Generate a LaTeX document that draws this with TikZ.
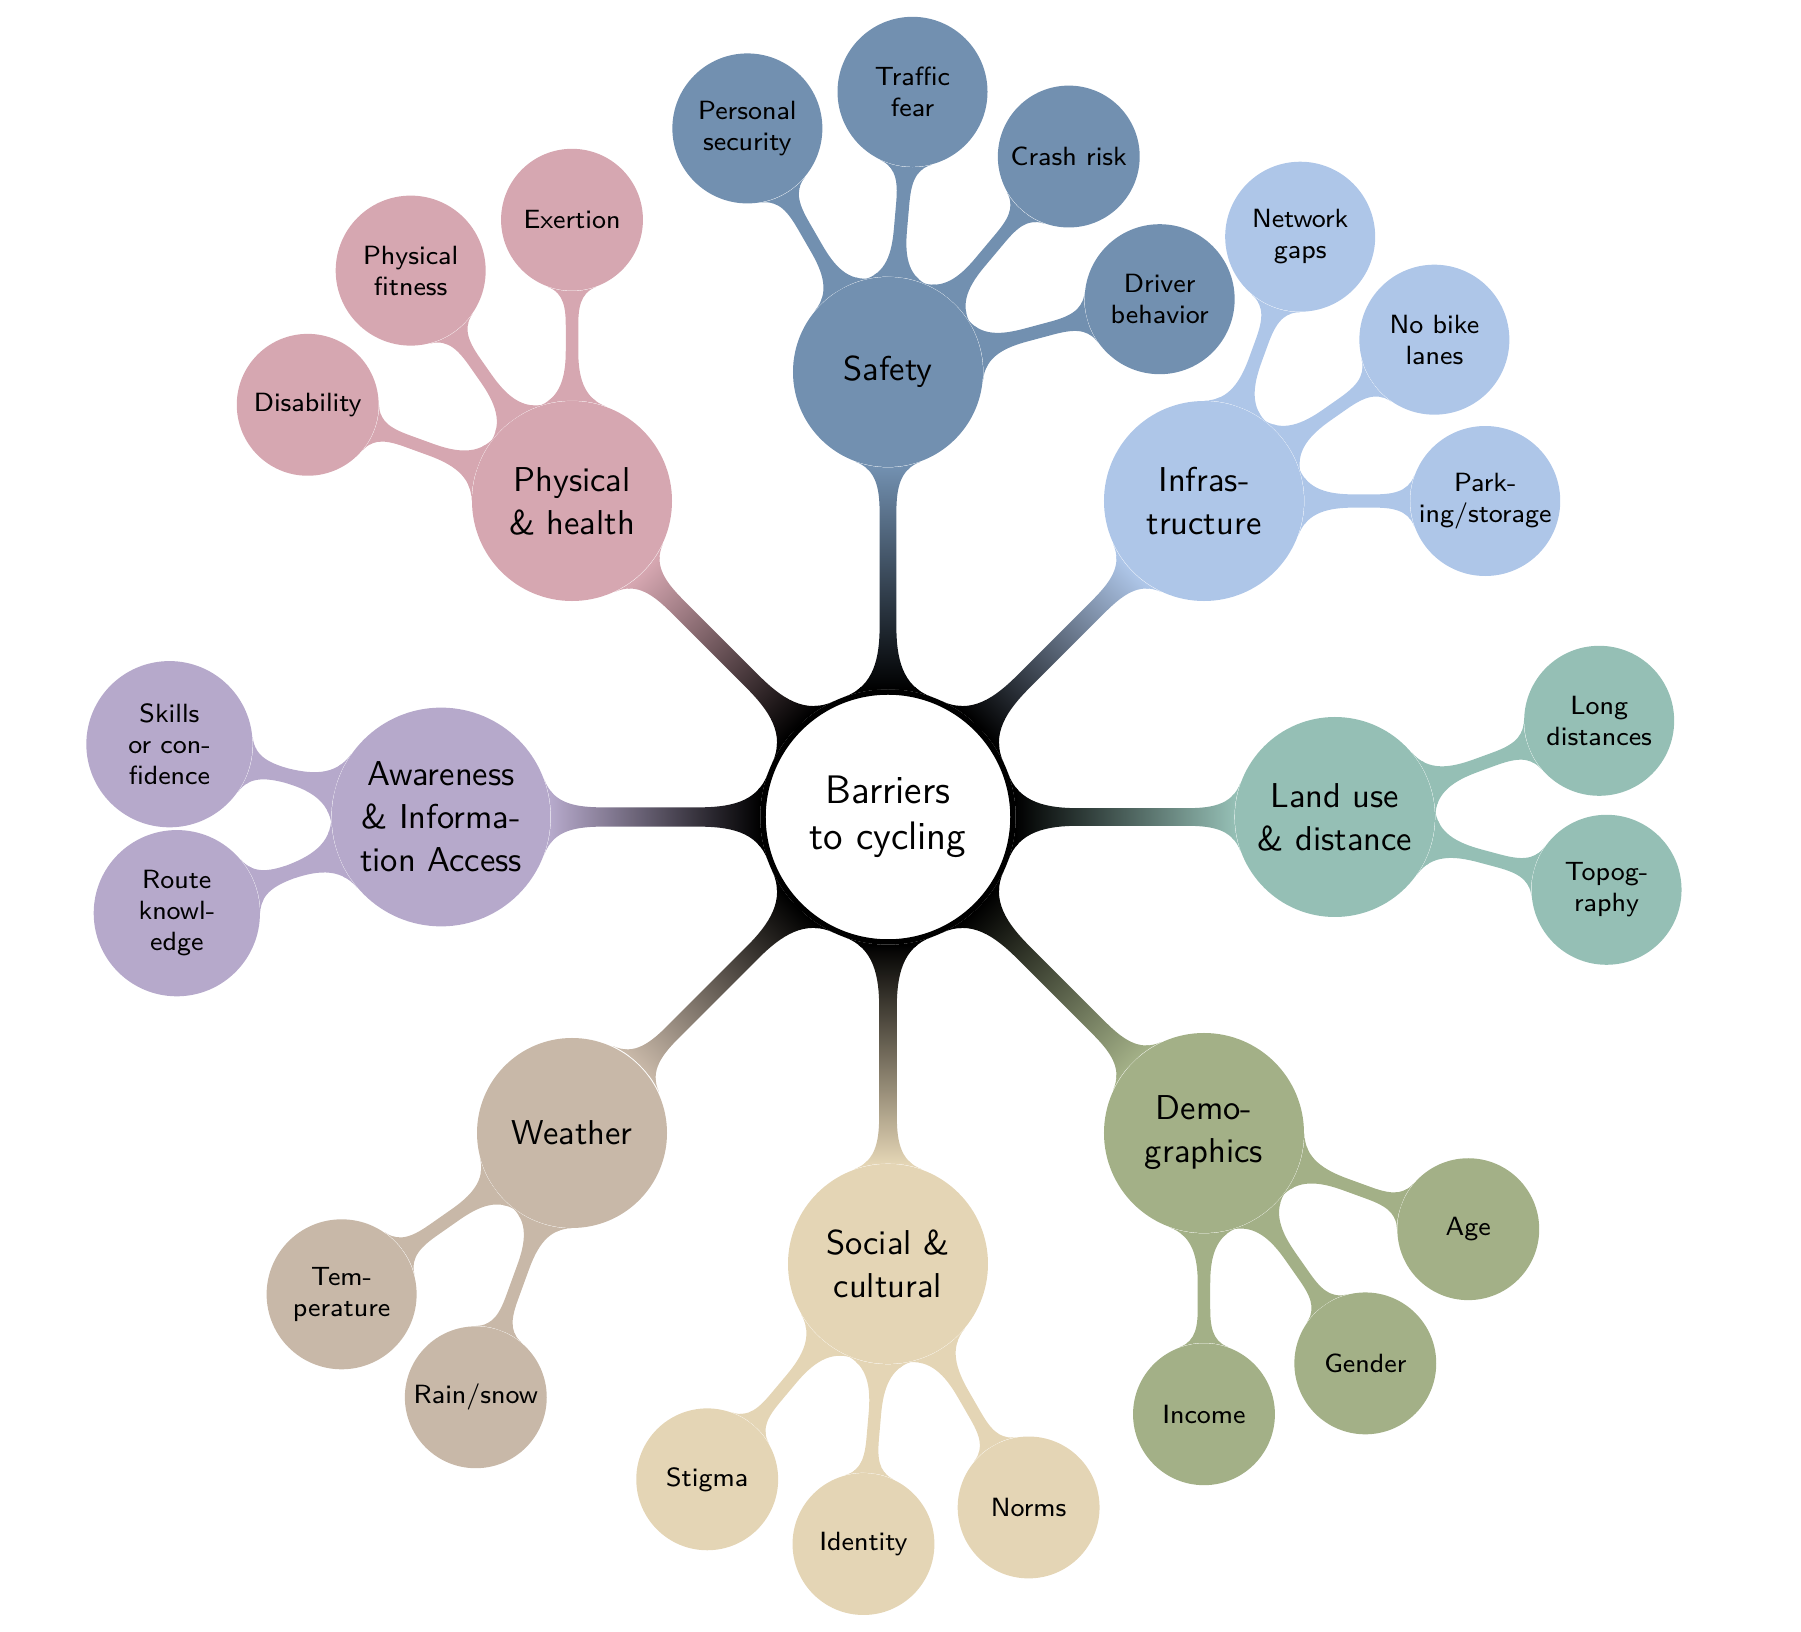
\documentclass[tikz,border=0pt]{standalone}
\usepackage{fontspec}
\usetikzlibrary{mindmap,backgrounds}
\newfontfamily\lmseight{lmsans8-regular.otf}
\newfontfamily\lmsten{lmsans10-regular.otf}
\newfontfamily\lmstwelve{lmsans12-regular.otf}
\definecolor{csafety}{HTML}{7290B0}
\definecolor{cinfra}{HTML}{AEC6E8}
\definecolor{cland}{HTML}{95BFB5}
\definecolor{cdemo}{HTML}{A3B087}
\definecolor{csocial}{HTML}{E4D5B5}
\definecolor{cweather}{HTML}{C8B8A8}
\definecolor{caware}{HTML}{B6A9CB}
\definecolor{cphys}{HTML}{D6A7B1}
\newcommand\fontroot{\lmstwelve\fontsize{18.1}{20.8}\selectfont}
\newcommand\fontone{\lmsten\fontsize{15.7}{19.5}\selectfont}
\newcommand\fonttwo{\lmseight\fontsize{12}{14}\selectfont}
\begin{document}
\begin{tikzpicture}[
  rootc/.style={circle, draw=black, line width=2.5pt, fill=white, minimum size=4cm,
    inner sep=0pt, align=center, text=black, font=\fontroot},
  lone/.style={circle, fill=#1, draw=none, minimum size=3.04cm, inner sep=0pt,
    align=center, text=black, font=\fontone},
  ltwo/.style={circle, fill=#1, draw=none, minimum size=2.27cm, inner sep=0pt,
    align=center, text=black, font=\fonttwo},
  rbar/.style={circle connection bar switch color=from (black) to (#1)},
  cbar/.style={circle connection bar switch color=from (#1) to (#1)}
]
\useasboundingbox (-14.208,-13.04) rectangle (14.608,13.072);

\node[rootc] (root) at (0,0) {Barriers\\to cycling};

% level 1
\node[lone=csafety]  (safety)  at (90:7.12)   {Safety};
\node[lone=cinfra, minimum size=3.2cm]   (infra)   at (45:7.15)   {Infras-\\tructure};
\node[lone=cland, minimum size=3.2cm]    (land)    at (0:7.15)    {Land use\\\& distance};
\node[lone=cdemo, minimum size=3.2cm]    (demo)    at (-45:7.15)  {Demo-\\graphics};
\node[lone=csocial, minimum size=3.2cm]  (social)  at (-90:7.15)  {Social \&\\cultural};
\node[lone=cweather] (weather) at (-135:7.15) {Weather};
\node[lone=caware, minimum size=3.5cm]   (aware)   at (180:7.15)  {Awareness\\\& Informa-\\tion Access};
\node[lone=cphys, minimum size=3.2cm]    (phys)    at (135:7.15)  {Physical\\\& health};

% level 2: safety
\path (safety.center) ++(120:4.5) node[ltwo=csafety, minimum size=2.4cm] (pers) {Personal\\security};
\path (safety.center) ++(85:4.5)  node[ltwo=csafety, minimum size=2.4cm] (traffic) {Traffic\\fear};
\path (safety.center) ++(50:4.5)  node[ltwo=csafety] (crash) {Crash risk};
\path (safety.center) ++(15:4.5)  node[ltwo=csafety, minimum size=2.4cm] (driver) {Driver\\behavior};
% infrastructure
\path (infra.center) ++(70:4.5) node[ltwo=cinfra, minimum size=2.4cm] (network) {Network\\gaps};
\path (infra.center) ++(35:4.5) node[ltwo=cinfra, minimum size=2.4cm] (nobike) {No bike\\lanes};
\path (infra.center) ++(0:4.5)  node[ltwo=cinfra, minimum size=2.4cm] (parking) {Park-\\ing/storage};
% land use
\path (land.center) ++(20:4.5)  node[ltwo=cland, minimum size=2.4cm] (long) {Long\\distances};
\path (land.center) ++(-15:4.5) node[ltwo=cland, minimum size=2.4cm] (topo) {Topog-\\raphy};
% demographics
\path (demo.center) ++(-20:4.5) node[ltwo=cdemo] (age) {Age};
\path (demo.center) ++(-55:4.5) node[ltwo=cdemo] (gender) {Gender};
\path (demo.center) ++(-90:4.5) node[ltwo=cdemo] (income) {Income};
% social
\path (social.center) ++(-130:4.5) node[ltwo=csocial] (stigma) {Stigma};
\path (social.center) ++(-95:4.5)  node[ltwo=csocial] (identity) {Identity};
\path (social.center) ++(-60:4.5)  node[ltwo=csocial] (norms) {Norms};
% weather
\path (weather.center) ++(-145:4.5) node[ltwo=cweather, minimum size=2.4cm] (temp) {Tem-\\perature};
\path (weather.center) ++(-110:4.5) node[ltwo=cweather] (rain) {Rain/snow};
% awareness
\path (aware.center) ++(165:4.5) node[ltwo=caware, minimum size=2.66cm] (skills) {Skills\\or con-\\fidence};
\path (aware.center) ++(200:4.5) node[ltwo=caware, minimum size=2.66cm] (route) {Route\\knowl-\\edge};
% physical
\path (phys.center) ++(90:4.5)  node[ltwo=cphys] (exertion) {Exertion};
\path (phys.center) ++(125:4.5) node[ltwo=cphys, minimum size=2.4cm] (fitness) {Physical\\fitness};
\path (phys.center) ++(160:4.5) node[ltwo=cphys] (disab) {Disability};

\begin{pgfonlayer}{background}
\path (root) to[rbar=csafety] (safety);
\path (root) to[rbar=cinfra] (infra);
\path (root) to[rbar=cland] (land);
\path (root) to[rbar=cdemo] (demo);
\path (root) to[rbar=csocial] (social);
\path (root) to[rbar=cweather] (weather);
\path (root) to[rbar=caware] (aware);
\path (root) to[rbar=cphys] (phys);

\path (safety) to[cbar=csafety] (pers);
\path (safety) to[cbar=csafety] (traffic);
\path (safety) to[cbar=csafety] (crash);
\path (safety) to[cbar=csafety] (driver);
\path (infra) to[cbar=cinfra] (network);
\path (infra) to[cbar=cinfra] (nobike);
\path (infra) to[cbar=cinfra] (parking);
\path (land) to[cbar=cland] (long);
\path (land) to[cbar=cland] (topo);
\path (demo) to[cbar=cdemo] (age);
\path (demo) to[cbar=cdemo] (gender);
\path (demo) to[cbar=cdemo] (income);
\path (social) to[cbar=csocial] (stigma);
\path (social) to[cbar=csocial] (identity);
\path (social) to[cbar=csocial] (norms);
\path (weather) to[cbar=cweather] (temp);
\path (weather) to[cbar=cweather] (rain);
\path (aware) to[cbar=caware] (skills);
\path (aware) to[cbar=caware] (route);
\path (phys) to[cbar=cphys] (exertion);
\path (phys) to[cbar=cphys] (fitness);
\path (phys) to[cbar=cphys] (disab);
\end{pgfonlayer}
\end{tikzpicture}
\end{document}
